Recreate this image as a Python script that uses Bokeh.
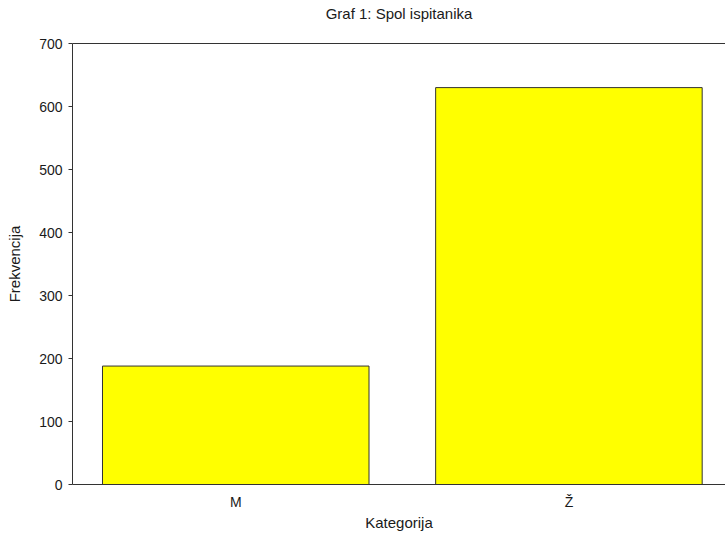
from bokeh.plotting import figure
from bokeh.models import ColumnDataSource, Range1d, FixedTicker, LinearAxis
from bokeh.embed import file_html
from bokeh.resources import INLINE

title = "Graf 1: Spol ispitanika"
categories = ["M", "Ž"]
frequencies = [188, 630]
y_ticks = [0, 100, 200, 300, 400, 500, 600, 700]

positions = list(range(len(categories)))
src = ColumnDataSource(dict(x=positions, top=frequencies, cat=categories))

FONT = "Liberation Sans"
DARK = "#333333"
TEXT = "#1a1a1a"

p = figure(width=725, height=539, output_backend="svg", toolbar_location=None,
           x_range=Range1d(-0.49, 1.47), y_range=Range1d(0, 700),
           min_border_left=72, min_border_right=0, min_border_top=0,
           min_border_bottom=55)

p.title.text = title
p.title.align = "center"
p.title.text_font = FONT
p.title.text_font_size = "15px"
p.title.text_font_style = "normal"
p.title.text_color = TEXT
p.title.standoff = 5

p.vbar(x="x", top="top", bottom=0, width=0.8, source=src,
       fill_color="#FFFF00", line_color=DARK, line_width=1)

p.grid.visible = False
p.outline_line_color = None
p.background_fill_color = "white"

# y axis
p.yaxis.ticker = FixedTicker(ticks=y_ticks)
p.yaxis.axis_label = "Frekvencija"
p.yaxis.minor_tick_line_color = None
p.yaxis.major_tick_out = 4
p.yaxis.major_tick_in = 0

# x axis
p.xaxis.ticker = FixedTicker(ticks=positions)
p.xaxis.major_label_overrides = {i: c for i, c in zip(positions, categories)}
p.xaxis.axis_label = "Kategorija"
p.xaxis.minor_tick_line_color = None
p.xaxis.major_tick_out = 0
p.xaxis.major_tick_in = 0

for ax in (p.xaxis[0], p.yaxis[0]):
    ax.axis_line_color = DARK
    ax.major_tick_line_color = DARK
    ax.major_label_text_font = FONT
    ax.major_label_text_font_size = "14px"
    ax.major_label_text_color = TEXT
    ax.axis_label_text_font = FONT
    ax.axis_label_text_font_size = "15px"
    ax.axis_label_text_font_style = "normal"
    ax.axis_label_text_color = TEXT

p.xaxis.major_label_standoff = 9
p.xaxis.axis_label_standoff = 1
p.yaxis.major_label_standoff = 6
p.yaxis.axis_label_standoff = 13

# top frame line (with a blank label acting as spacing below the title)
top_axis = LinearAxis(ticker=FixedTicker(ticks=[]), axis_line_color=DARK,
                      major_tick_line_color=None, minor_tick_line_color=None,
                      major_label_text_font_size="0px",
                      axis_label=" ", axis_label_text_font_size="14px",
                      axis_label_standoff=0)
p.add_layout(top_axis, "above")

open("out.html", "w").write(file_html(p, INLINE))
